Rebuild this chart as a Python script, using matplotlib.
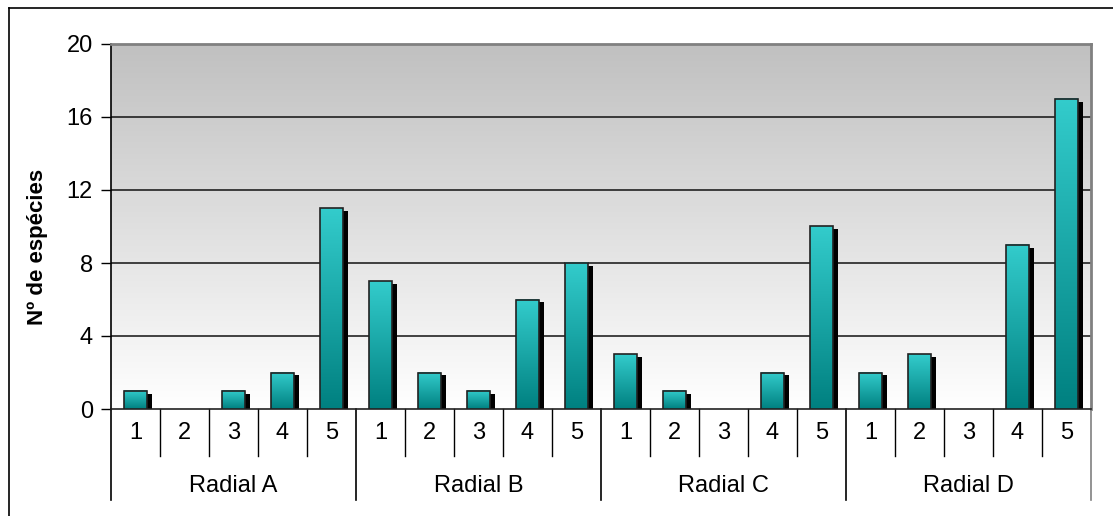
import numpy as np
import matplotlib
matplotlib.use("Agg")
import matplotlib.pyplot as plt
from matplotlib.patches import Rectangle
from matplotlib.lines import Line2D
from matplotlib.colors import LinearSegmentedColormap

groups = ["Radial A", "Radial B", "Radial C", "Radial D"]
sub_labels = ["1", "2", "3", "4", "5"]
values_A = [1, 0, 1, 2, 11]
values_B = [7, 2, 1, 6, 8]
values_C = [3, 1, 0, 2, 10]
values_D = [2, 3, 0, 9, 17]
y_ticks = [0, 4, 8, 12, 16, 20]
y_label = "Nº de espécies"

values = values_A + values_B + values_C + values_D
n = len(values)
ns = len(sub_labels)

plt.rcParams['font.family'] = ['Liberation Sans', 'DejaVu Sans']
FS = 17

W, H = 1113, 516
fig = plt.figure(figsize=(W / 100, H / 100), dpi=100)
fig.patch.set_facecolor('white')
L, R, T, B = 111, 1091, 44, 409
ax = fig.add_axes([L / W, (H - B) / H, (R - L) / W, (B - T) / H])

xmin, xmax = -0.5, n - 0.5
ymin, ymax = 0, 20

# background gradient
bg = LinearSegmentedColormap.from_list("bg", ["#ffffff", "#c0c0c0"])
grad = np.linspace(0, 1, 256).reshape(-1, 1)
ax.imshow(grad, extent=[xmin, xmax, ymin, ymax], origin='lower', aspect='auto',
          cmap=bg, zorder=0, interpolation='bicubic')

for yv in y_ticks[1:-1]:
    ax.axhline(yv, color='#111111', lw=1.1, zorder=1)

barcm = LinearSegmentedColormap.from_list("bar", ["#008080", "#33cccc"])
bw = 0.45
sdx = 0.12
sdy = 0.16
for i, v in enumerate(values):
    if v <= 0:
        continue
    x0 = i - bw / 2
    ax.add_patch(Rectangle((x0 + sdx, 0), bw, v - sdy, facecolor='black',
                           edgecolor='none', zorder=2))
    ax.imshow(grad, extent=[x0, x0 + bw, 0, v], origin='lower', aspect='auto',
              cmap=barcm, zorder=3, interpolation='bicubic')
    ax.add_patch(Rectangle((x0, 0), bw, v, facecolor='none',
                           edgecolor='#222222', lw=1.2, zorder=4))

ax.set_xlim(xmin, xmax)
ax.set_ylim(ymin, ymax)
ax.set_yticks(y_ticks)
ax.set_yticklabels([str(t) for t in y_ticks], fontsize=FS)
ax.tick_params(axis='y', length=7, width=1, color='black', direction='out', pad=6)
ax.set_xticks([])
ax.set_ylabel(y_label, fontsize=16, fontweight='bold')
ax.yaxis.set_label_coords((38 - L) / (R - L), 1 - (246.5 - T) / (B - T))
ax.yaxis.label.set_va('center')

ax.spines['left'].set_color('black')
ax.spines['left'].set_linewidth(1.2)
ax.spines['bottom'].set_color('#222222')
ax.spines['bottom'].set_linewidth(1.2)
ax.spines['top'].set_color('#808080')
ax.spines['top'].set_linewidth(2)
ax.spines['right'].set_color('#808080')
ax.spines['right'].set_linewidth(2)

# multi-level category axis
tr = ax.get_xaxis_transform()
h1 = -(456 - 409) / (B - T)
h2 = -(500 - 409) / (B - T)
for k in range(n + 1):
    xb = k - 0.5
    if k % ns == 0:
        col = '#808080' if k == n else 'black'
        ax.plot([xb, xb], [0, h2], transform=tr, color=col, lw=1.2, clip_on=False)
    else:
        ax.plot([xb, xb], [0, h1], transform=tr, color='black', lw=1.0, clip_on=False)
for i in range(n):
    ax.text(i, -(433 - 409) / (B - T), sub_labels[i % ns], transform=tr,
            ha='center', va='center', fontsize=FS)
for g, name in enumerate(groups):
    ax.text(g * ns + (ns - 1) / 2, -(486 - 409) / (B - T), name, transform=tr,
            ha='center', va='center', fontsize=FS)

# outer frame (left and top edges)
fig.add_artist(Line2D([9 / W, 9 / W], [0, 1 - 8 / H], color='black', lw=1.2))
fig.add_artist(Line2D([9 / W, 1], [1 - 8 / H, 1 - 8 / H], color='black', lw=1.2))

fig.savefig("out.png", dpi=100)
